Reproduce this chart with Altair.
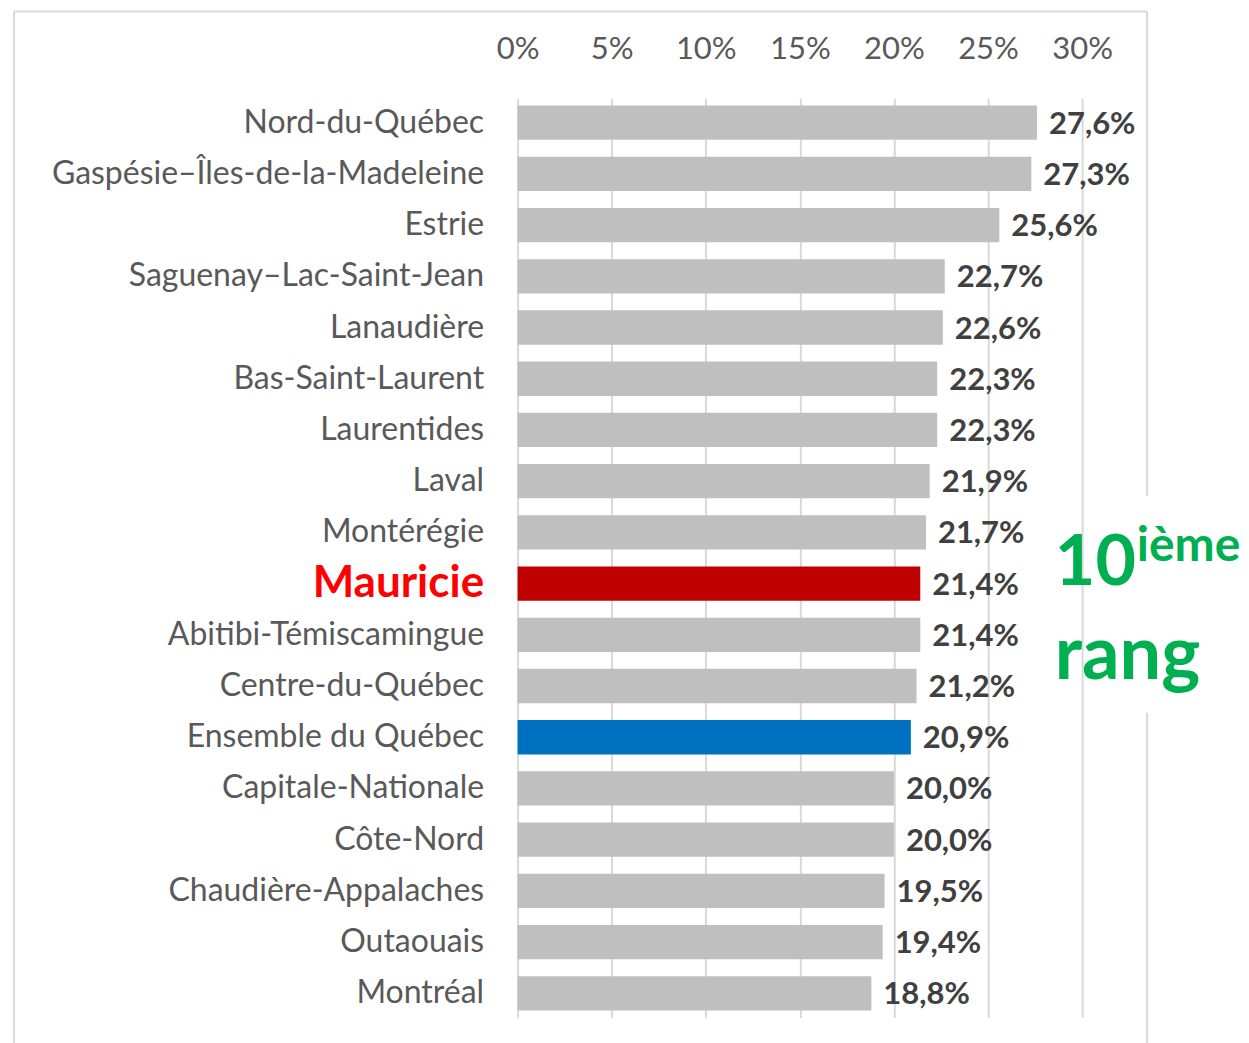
import altair as alt
import pandas as pd

regions = [
    "Nord-du-Québec", "Gaspésie–Îles-de-la-Madeleine", "Estrie", "Saguenay–Lac-Saint-Jean",
    "Lanaudière", "Bas-Saint-Laurent", "Laurentides", "Laval", "Montérégie", "Mauricie",
    "Abitibi-Témiscamingue", "Centre-du-Québec", "Ensemble du Québec", "Capitale-Nationale",
    "Côte-Nord", "Chaudière-Appalaches", "Outaouais", "Montréal",
]
values = [27.6, 27.3, 25.6, 22.7, 22.6, 22.3, 22.3, 21.9, 21.7, 21.4,
          21.4, 21.2, 20.9, 20.0, 20.0, 19.5, 19.4, 18.8]
tick_values = [0, 5, 10, 15, 20, 25, 30]

df = pd.DataFrame({"region": regions, "value": values})
df["label"] = [f"{v:.1f}".replace(".", ",") + "%" for v in values]

FONT = "Lato"
GRID = "#D9D9D9"

y_enc = alt.Y(
    "region:N", sort=regions, title=None,
    scale=alt.Scale(paddingInner=0.33, paddingOuter=0.14),
    axis=alt.Axis(
        domain=False, ticks=False, labelPadding=34, labelFont=FONT,
        labelFontSize={"condition": {"test": "datum.value == 'Mauricie'", "value": 44}, "value": 32},
        labelFontWeight={"condition": {"test": "datum.value == 'Mauricie'", "value": "bold"}, "value": "normal"},
        labelColor={"condition": {"test": "datum.value == 'Mauricie'", "value": "#FF0000"}, "value": "#595959"},
        labelLimit=600,
    ),
)
x_enc = alt.X(
    "value:Q", title=None,
    scale=alt.Scale(domain=[0, 30], nice=False),
    axis=alt.Axis(
        orient="top", values=tick_values, labelExpr="datum.value + '%'",
        grid=True, gridColor=GRID, gridWidth=2, domain=False, ticks=False, labelFlush=False,
        labelFont=FONT, labelFontSize=31, labelColor="#595959", labelPadding=33,
    ),
)

base = alt.Chart(df)
bars = base.mark_bar().encode(
    x=x_enc, y=y_enc,
    color=alt.Color(
        "kind:N", legend=None,
        scale=alt.Scale(domain=["hl", "qc", "other"], range=["#C00000", "#0070C0", "#BFBFBF"]),
    ),
).transform_calculate(
    kind="datum.region == 'Mauricie' ? 'hl' : (datum.region == 'Ensemble du Québec' ? 'qc' : 'other')"
)

text = base.mark_text(
    align="left", baseline="middle", dx=12, dy=2, font=FONT, fontSize=31,
    fontWeight="bold", color="#404040",
).encode(x="value:Q", y=alt.Y("region:N", sort=regions), text="label:N")

# Frame (decoration)
frame_df = pd.DataFrame({"a": [0]})
frame = alt.Chart(frame_df)
fl = frame.mark_rule(color=GRID, strokeWidth=2).encode(x=alt.value(-504), y=alt.value(-87), y2=alt.value(960))
ft = frame.mark_rule(color=GRID, strokeWidth=2).encode(x=alt.value(-504), x2=alt.value(630), y=alt.value(-87))
fr1 = frame.mark_rule(color=GRID, strokeWidth=2).encode(x=alt.value(630), y=alt.value(-87), y2=alt.value(398))
fr2 = frame.mark_rule(color=GRID, strokeWidth=2).encode(x=alt.value(630), y=alt.value(615), y2=alt.value(960))

ann_df = pd.DataFrame({
    "t": ["10", "ième", "rang"],
    "region": ["Mauricie", "Mauricie", "Centre-du-Québec"],
    "xpos": [28.55, 32.9, 28.55],
})
ann10 = alt.Chart(ann_df[ann_df.t == "10"]).mark_text(
    align="left", baseline="alphabetic", dy=1, font=FONT, fontSize=70, fontWeight="bold", color="#00B050",
).encode(x="xpos:Q", y=alt.Y("region:N", sort=regions), text="t:N")
annieme = alt.Chart(ann_df[ann_df.t == "ième"]).mark_text(
    align="left", baseline="alphabetic", dy=-23, font=FONT, fontSize=48, fontWeight="bold", color="#00B050",
).encode(x="xpos:Q", y=alt.Y("region:N", sort=regions), text="t:N")
annrang = alt.Chart(ann_df[ann_df.t == "rang"]).mark_text(
    align="left", baseline="alphabetic", dy=-7, font=FONT, fontSize=74, fontWeight="bold", color="#00B050",
).encode(x="xpos:Q", y=alt.Y("region:N", sort=regions), text="t:N")

chart = alt.layer(fl, ft, fr1, fr2, bars, text, ann10, annieme, annrang).properties(
    width=565, height=920, background="white",
    padding={"left": 5, "top": 2, "right": 0, "bottom": 0},
).configure_view(stroke=None)

chart.save("out.html", embed_options={"renderer": "svg", "actions": False})
